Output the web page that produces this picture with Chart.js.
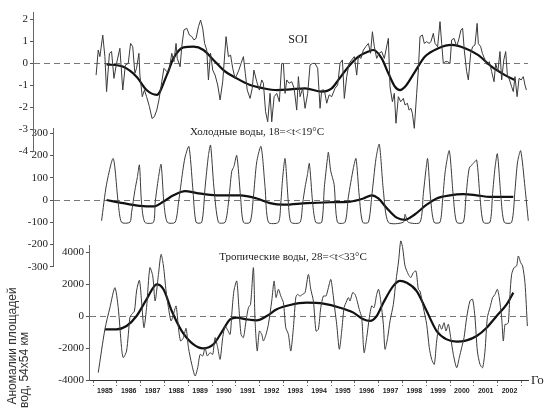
<!DOCTYPE html>
<html><head><meta charset="utf-8">
<script src="https://cdn.jsdelivr.net/npm/chart.js@4/dist/chart.umd.min.js"></script>
<style>
html,body{margin:0;padding:0;background:#fff;}
#wrap{position:relative;width:546px;height:411px;overflow:hidden;background:#fff;}
canvas{position:absolute;left:0;top:0;}
</style></head><body>
<div id="wrap">
<canvas id="cBot" width="546" height="411"></canvas>
<canvas id="cMid" width="546" height="411"></canvas>
<canvas id="cTop" width="546" height="411"></canvas>
</div>
<script>
// ---------- DATA ----------
const yearLabels = [1985,1986,1987,1988,1989,1990,1991,1992,1993,1994,1995,1996,1997,1998,1999,2000,2001,2002];
const soiTicks  = [2,1,0,-1,-2,-3,-4];
const coldTicks = [300,200,100,0,-100,-200,-300];
const tropTicks = [4000,2000,0,-2000,-4000];

const soiYears = [
 1985.13,1985.22,1985.29,1985.41,1985.50,1985.57,1985.69,1985.78,1985.88,1985.99,
 1986.13,1986.25,1986.36,1986.48,1986.58,1986.67,1986.76,1986.83,1986.93,1986.97,
 1987.07,1987.16,1987.25,1987.37,1987.48,1987.58,1987.68,1987.77,1987.89,1987.98,
 1988.10,1988.19,1988.31,1988.40,1988.49,1988.54,1988.66,1988.73,1988.82,1988.94,
 1989.05,1989.15,1989.24,1989.33,1989.43,1989.52,1989.61,1989.69,1989.78,1989.85,
 1989.94,1990.03,1990.13,1990.24,1990.34,1990.45,1990.59,1990.69,1990.78,1990.87,
 1990.97,1991.04,1991.13,1991.22,1991.32,1991.40,1991.48,1991.60,1991.69,1991.76,
 1991.88,1991.99,1992.09,1992.16,1992.25,1992.34,1992.44,1992.51,1992.61,1992.72,
 1992.83,1992.93,1993.00,1993.07,1993.14,1993.24,1993.35,1993.45,1993.56,1993.63,
 1993.70,1993.81,1993.91,1994.02,1994.12,1994.22,1994.33,1994.44,1994.54,1994.61,
 1994.72,1994.82,1994.92,1995.03,1995.17,1995.28,1995.38,1995.48,1995.56,1995.66,
 1995.76,1995.87,1995.98,1996.08,1996.15,1996.26,1996.36,1996.46,1996.57,1996.66,
 1996.74,1996.82,1996.92,1997.02,1997.13,1997.24,1997.31,1997.41,1997.48,1997.58,
 1997.66,1997.73,1997.83,1997.93,1998.04,1998.11,1998.21,1998.28,1998.36,1998.42,
 1998.50,1998.60,1998.67,1998.74,1998.84,1998.92,1999.02,1999.12,1999.20,1999.30,
 1999.37,1999.48,1999.58,1999.65,1999.72,1999.79,1999.90,2000.00,2000.07,2000.17,
 2000.28,2000.38,2000.46,2000.53,2000.60,2000.70,2000.77,2000.87,2000.95,2001.05,
 2001.14,2001.19,2001.29,2001.36,2001.47,2001.57,2001.65,2001.75,2001.85,2001.92,
 2002.01,2002.10,2002.17,2002.26,2002.34,2002.41,2002.50,2002.59,2002.66,2002.73,
 2002.82,2002.90,2002.99,2003.08,2003.15,2003.21];
const soiValues = [
 -0.55,0.59,0.29,1.27,0.29,-1.30,0.44,0.52,-0.70,-0.02,
 0.67,-1.23,-0.09,-0.02,0.89,0.74,-0.47,-0.24,0.44,-0.55,
 -1.53,-1.23,-1.53,-1.98,-2.52,-2.44,-2.14,-1.68,-0.85,-0.24,
 -0.39,-0.39,0.44,0.06,0.89,0.21,-0.17,0.74,1.50,1.58,
 1.27,1.20,1.05,1.12,1.65,1.95,1.58,0.89,0.59,-0.77,
 0.44,-0.32,-0.55,-1.00,-1.68,-0.85,1.20,0.29,0.36,-0.24,
 -0.70,-0.55,-0.32,-0.02,0.29,-0.47,-1.23,-1.61,-1.15,-0.32,
 -0.85,-1.23,-0.77,-0.92,-2.21,-2.67,-1.38,-2.67,-1.53,-1.38,
 -1.76,-0.02,-0.02,-1.38,-0.77,-0.92,-0.85,-1.15,-2.14,-0.62,
 -1.53,-1.15,-2.06,-1.38,-0.09,-0.02,-0.02,-0.24,-2.06,-1.23,
 -1.23,-1.83,-1.45,-1.53,-1.15,-1.00,-0.02,0.14,-1.61,-0.62,
 -0.02,0.14,0.29,-0.55,0.29,0.21,0.59,0.74,0.89,0.44,
 1.42,0.74,0.21,0.44,0.52,0.21,0.59,1.12,-1.08,-1.76,
 -1.38,-2.74,-1.53,-1.76,-1.61,-1.91,-1.83,-2.14,-2.06,-2.29,
 -2.97,-1.38,-0.32,1.20,1.27,0.89,0.97,0.89,0.97,1.35,
 0.89,0.74,1.88,0.89,-0.02,0.06,0.06,-0.02,1.05,1.12,
 0.74,1.12,1.50,1.58,0.59,-0.39,-0.77,0.44,0.74,0.82,
 1.80,0.89,0.74,0.44,0.14,-0.09,0.06,-0.39,-0.85,-0.02,
 -0.39,0.52,-0.77,0.14,0.52,-0.55,-0.77,-1.08,-1.30,-0.62,
 -1.53,-0.70,-0.77,-0.62,-1.00,-1.23];

const soiSmoothYears = [1985.57,1986.27,1986.83,1987.25,1987.68,1988.10,1988.38,1988.80,1989.22,1989.64,
 1990.06,1990.48,1991.04,1991.60,1992.16,1992.72,1993.28,1993.91,1994.61,1995.03,
 1995.31,1995.73,1996.15,1996.57,1996.78,1997.13,1997.41,1997.69,1997.90,1998.11,
 1998.53,1998.95,1999.51,2000.07,2000.63,2001.19,2001.75,2002.31,2002.73];
const soiSmoothValues = [-0.06,-0.17,-0.62,-1.23,-1.45,-0.55,0.21,0.71,0.74,0.59,
 0.14,-0.32,-0.70,-1.00,-1.15,-1.23,-1.20,-1.15,-1.30,-1.15,
 -0.77,-0.17,0.29,0.52,0.59,0.21,-0.47,-1.08,-1.23,-1.08,
 -0.39,0.29,0.67,0.82,0.67,0.36,-0.17,-0.55,-0.77];

const coldYears = [
 1985.36,1985.57,1985.85,1986.06,1986.20,1986.55,1986.62,1986.76,1986.86,1986.95,
 1987.04,1987.18,1987.54,1987.61,1987.75,1987.86,1987.98,1988.12,1988.45,1988.59,
 1988.77,1988.87,1989.03,1989.19,1989.33,1989.57,1989.71,1989.85,1989.94,1990.08,
 1990.27,1990.55,1990.69,1990.83,1990.92,1991.04,1991.20,1991.32,1991.60,1991.74,
 1991.88,1992.06,1992.23,1992.37,1992.79,1992.89,1992.97,1993.07,1993.21,1993.32,
 1993.70,1993.81,1993.91,1994.01,1994.09,1994.23,1994.36,1994.61,1994.72,1994.85,
 1994.89,1994.99,1995.13,1995.27,1995.59,1995.73,1995.94,1996.05,1996.19,1996.33,
 1996.57,1996.71,1996.89,1997.03,1997.20,1997.41,1998.04,1998.11,1998.25,1998.74,
 1998.88,1998.99,1999.06,1999.19,1999.33,1999.58,1999.69,1999.80,1999.97,2000.14,
 2000.28,2000.56,2000.67,2000.81,2000.98,2001.12,2001.26,2001.40,2001.68,2001.79,
 2001.89,2001.99,2002.14,2002.28,2002.59,2002.73,2002.84,2002.97,2003.15,2003.29];
const coldValues = [
 -93,71,186,-14,-100,-100,-57,43,100,157,
 -14,-100,-100,-14,100,160,-14,-100,-100,-14,
 129,193,240,57,-100,-100,57,200,246,57,
 -100,-100,-14,129,150,200,14,-100,-100,14,
 171,240,57,-100,-100,-14,100,186,-14,-100,
 -100,-14,57,114,164,-14,-100,-100,57,186,
 214,129,71,-100,-100,14,143,186,14,-100,
 -100,14,186,250,43,-100,-100,-64,-100,-100,
 29,136,186,0,-100,-100,0,129,221,14,
 -100,-100,14,143,164,179,14,-100,-100,29,
 143,207,14,-100,-100,43,171,221,57,-93];

const coldSmoothYears = [1985.57,1986.27,1986.97,1987.54,1987.96,1988.38,1988.87,1989.36,1990.20,1991.18,
 1991.88,1992.44,1993.00,1993.98,1994.96,1995.80,1996.36,1996.71,1996.99,1997.34,
 1997.76,1998.11,1998.53,1999.02,1999.44,2000.00,2000.56,2001.12,2001.68,2002.66];
const coldSmoothValues = [0,-14,-26,-29,-7,21,40,31,21,21,
 7,-14,-21,-14,-10,-7,7,21,7,-36,
 -79,-89,-64,-21,7,21,26,21,14,14];

const tropYears = [
 1985.22,1985.50,1985.71,1985.92,1986.06,1986.20,1986.27,1986.41,1986.55,1986.62,
 1986.74,1986.83,1986.95,1987.04,1987.14,1987.25,1987.39,1987.51,1987.61,1987.75,
 1987.86,1987.96,1988.07,1988.17,1988.28,1988.38,1988.49,1988.59,1988.68,1988.80,
 1988.91,1989.01,1989.15,1989.29,1989.40,1989.50,1989.61,1989.71,1989.80,1989.92,
 1990.03,1990.13,1990.24,1990.34,1990.45,1990.55,1990.64,1990.76,1990.83,1990.92,
 1991.04,1991.13,1991.22,1991.32,1991.43,1991.53,1991.62,1991.74,1991.81,1991.90,
 1991.99,1992.09,1992.16,1992.27,1992.37,1992.51,1992.61,1992.69,1992.79,1992.89,
 1993.00,1993.10,1993.21,1993.31,1993.42,1993.52,1993.59,1993.70,1993.80,1993.91,
 1994.05,1994.15,1994.26,1994.37,1994.47,1994.57,1994.68,1994.79,1994.89,1994.99,
 1995.07,1995.17,1995.24,1995.35,1995.45,1995.55,1995.66,1995.73,1995.80,1995.91,
 1996.01,1996.08,1996.19,1996.29,1996.39,1996.50,1996.61,1996.71,1996.81,1996.92,
 1997.00,1997.09,1997.20,1997.27,1997.38,1997.48,1997.62,1997.73,1997.84,1997.93,
 1998.01,1998.11,1998.25,1998.35,1998.46,1998.57,1998.67,1998.74,1998.88,1999.02,
 1999.13,1999.23,1999.34,1999.44,1999.55,1999.65,1999.75,1999.83,1999.93,2000.03,
 2000.14,2000.28,2000.39,2000.49,2000.59,2000.70,2000.84,2000.95,2001.05,2001.15,
 2001.26,2001.37,2001.47,2001.57,2001.68,2001.79,2001.89,2001.99,2002.07,2002.17,
 2002.24,2002.31,2002.38,2002.45,2002.52,2002.59,2002.69,2002.80,2002.87,2002.97,
 2003.05,2003.15,2003.25];
const tropValues = [
 -3540,-830,520,1770,520,-1980,-2600,-2190,-100,100,
 310,1560,2230,940,-730,520,3020,2500,940,2600,
 3850,3130,1560,520,-310,100,625,-730,-1560,-1350,
 -770,-1980,-3020,-3750,-3230,-2400,-2500,-1980,-2500,-2290,
 -2400,-1350,-1980,-2710,-1350,-630,-830,-1150,100,1560,
 2190,520,-1150,-1350,-310,520,730,3020,-310,-2190,
 -940,-1150,-1560,-1150,-520,940,2190,1150,1670,1250,
 830,-730,-1150,-2190,-730,1150,1350,1250,1350,1460,
 2600,1670,940,-940,-830,520,1250,1250,1770,2290,
 1560,310,-520,-2080,-940,520,940,1150,940,1460,
 1350,1040,400,-100,-2290,-1350,-100,630,520,1350,
 1670,940,-520,-2080,-1350,-310,730,2190,3440,4690,
 4270,3130,2600,2400,2710,2810,1670,1560,520,-520,
 -1980,-2710,-3020,-1560,-520,-830,-420,-940,-520,-1350,
 -2400,-3230,-2600,-1980,-1350,-100,940,1040,-100,-2190,
 -3020,-3230,-2190,-100,520,1150,1350,1670,1150,-100,
 -1560,-520,-520,-420,1350,2600,3020,3130,3750,3330,
 3130,2080,-625];

const tropSmoothYears = [1985.50,1985.99,1986.41,1986.83,1987.25,1987.68,1987.96,1988.31,1988.73,1989.22,
 1989.64,1990.06,1990.48,1990.76,1991.04,1991.46,1991.88,1992.30,1992.72,1993.28,
 1993.98,1994.68,1995.38,1995.94,1996.36,1996.64,1996.92,1997.20,1997.62,1997.90,
 1998.18,1998.60,1999.02,1999.44,1999.86,2000.28,2000.70,2001.12,2001.54,2001.96,
 2002.38,2002.66];
const tropSmoothValues = [-830,-830,-625,0,1040,1980,1670,310,-940,-1770,
 -2020,-1770,-830,-210,-100,-210,-270,0,420,690,
 830,770,520,210,-210,-310,0,830,1880,2190,
 2080,1560,310,-940,-1460,-1600,-1520,-1250,-730,0,
 730,1460];

// ---------- LAYOUT (pixels) ----------
const CW = 546, CH = 411;
const AREA_RIGHT = 528;
const YEAR0_PX = 93;        // pixel of 1985.0
const PX_PER_YEAR = 23.8;
const SERIF = '"Liberation Serif", "DejaVu Serif", serif';
const SANS = '"Liberation Sans", "DejaVu Sans", sans-serif';

function pts(xs, ys){ return xs.map((x,i)=>({x:x, y:ys[i]})); }

function textPlugin(items){
  return {
    id:'texts',
    afterDraw(chart){
      const ctx = chart.ctx;
      items.forEach(it=>{
        ctx.save();
        ctx.font = it.font;
        ctx.fillStyle = it.color || '#222';
        ctx.textAlign = it.align || 'center';
        ctx.textBaseline = 'middle';
        ctx.translate(it.x, it.y);
        if (it.rot) ctx.rotate(it.rot);
        ctx.fillText(it.text, 0, 0);
        ctx.restore();
      });
    }
  };
}

function makeChart(id, p){
  const xMin = 1985 - (YEAR0_PX - p.areaLeft)/PX_PER_YEAR;
  const xMax = 1985 + (AREA_RIGHT - YEAR0_PX)/PX_PER_YEAR;
  const xH = p.showX ? 22 : 0;
  return new Chart(document.getElementById(id), {
    type:'line',
    data:{ datasets: p.datasets },
    options:{
      responsive:false, animation:false, devicePixelRatio:1,
      layout:{ autoPadding:false, padding:{ left:p.areaLeft - p.axisWidth, right:CW - AREA_RIGHT, top:p.areaTop, bottom:CH - p.areaBottom - xH } },
      plugins:{ legend:{display:false}, tooltip:{enabled:false} },
      scales:{
        x:{
          type:'linear', min:xMin, max:xMax, display:p.showX,
          afterFit: s => { s.height = xH; },
          afterBuildTicks: s => {
            const t = [];
            yearLabels.forEach(y => { t.push({value:y}); t.push({value:y+0.5}); });
            t.push({value: yearLabels[yearLabels.length-1] + 1});
            s.ticks = t;
          },
          ticks:{ autoSkip:false, maxRotation:0, minRotation:0, padding:1, color:'#222',
                  font:{family:SANS, size:7, weight:'bold'},
                  callback: v => Number.isInteger(v) ? '' : String(Math.floor(v)) },
          grid:{ drawOnChartArea:false, tickLength:6,
                 color: c => (c.tick && Number.isInteger(c.tick.value)) ? '#666' : 'rgba(0,0,0,0)',
                 tickBorderDash:[2,2] },
          border:{ display:true, color:'#333', width:1 }
        },
        y:{
          type:'linear', min:p.yMin, max:p.yMax,
          afterFit: s => { s.width = p.axisWidth; },
          afterBuildTicks: s => { s.ticks = p.ticks.map(v=>({value:v})); },
          ticks:{ color:'#222', padding:2, font:{family:SERIF, size:11}, callback: v => String(v) },
          grid:{ drawOnChartArea:true, tickLength:3, tickColor:'#555', tickWidth:1,
                 color: c => (c.tick && c.tick.value === 0) ? '#777' : 'rgba(0,0,0,0)' },
          border:{ display:true, color:'#666', width:1, dash:[6,4] }
        }
      }
    },
    plugins:[ textPlugin(p.texts) ]
  });
}

const rawStyle = { borderColor:'#3a3a3a', borderWidth:1, pointRadius:0, clip:false, fill:false };
const smoothStyle = { borderColor:'#111', borderWidth:2.2, pointRadius:0, clip:false, fill:false, cubicInterpolationMode:'monotone' };

// bottom: tropical waters
makeChart('cBot', {
  areaLeft:89, axisWidth:89, areaTop:316 - 4400*0.016, areaBottom:380,
  yMin:-4000, yMax:4400, ticks:tropTicks, showX:true,
  datasets:[
    Object.assign({ data:pts(tropYears, tropValues), tension:0.25 }, rawStyle),
    Object.assign({ data:pts(tropSmoothYears, tropSmoothValues) }, smoothStyle)
  ],
  texts:[
    { text:'Тропические воды, 28=<t<33°C', x:293, y:257, font:'11px '+SERIF },
    { text:'Го', x:531, y:381, align:'left', font:'13px '+SERIF },
    { text:'Аномалии площадей', x:13, y:346, rot:-Math.PI/2, font:'12px '+SANS, color:'#333' },
    { text:'вод, 54x54 км', x:25, y:370, rot:-Math.PI/2, font:'12px '+SANS, color:'#333' }
  ]
});

// middle: cold waters
makeChart('cMid', {
  areaLeft:53, axisWidth:33, areaTop:200 - 320*0.223, areaBottom:200 + 300*0.223,
  yMin:-300, yMax:320, ticks:coldTicks, showX:false,
  datasets:[
    Object.assign({ data:pts(coldYears, coldValues), tension:0.25 }, rawStyle),
    Object.assign({ data:pts(coldSmoothYears, coldSmoothValues) }, smoothStyle)
  ],
  texts:[ { text:'Холодные воды, 18=<t<19°C', x:257, y:132, font:'11px '+SERIF } ]
});

// top: SOI
makeChart('cTop', {
  areaLeft:33, axisWidth:33, areaTop:63 - 2.3*22, areaBottom:63 + 4*22,
  yMin:-4, yMax:2.3, ticks:soiTicks, showX:false,
  datasets:[
    Object.assign({ data:pts(soiYears, soiValues), tension:0 }, rawStyle),
    Object.assign({ data:pts(soiSmoothYears, soiSmoothValues) }, smoothStyle)
  ],
  texts:[ { text:'SOI', x:298, y:40, font:'12px '+SERIF } ]
});
</script>
</body></html>
